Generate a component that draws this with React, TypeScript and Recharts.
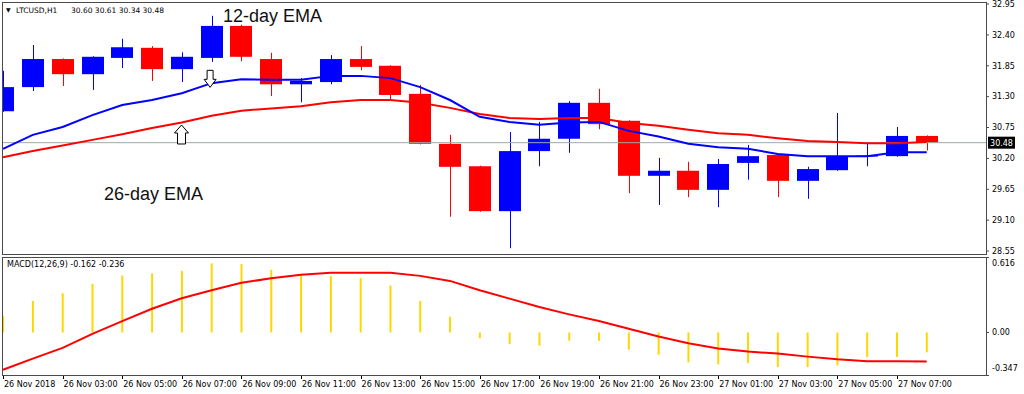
import React from 'react';
import { ComposedChart, Bar, Line, XAxis, YAxis, ReferenceLine, ReferenceDot } from 'recharts';

// ---- data (LTCUSD, H1) ----
const opens = [31.04, 31.47, 31.97, 31.70, 31.99, 32.17, 31.79, 31.99, 32.56, 31.97, 31.52, 31.56, 31.97, 31.85, 31.35, 30.46, 30.06, 29.26, 30.33, 30.55, 31.19, 30.87, 29.89, 29.98, 29.64, 30.12, 30.26, 29.80, 29.99, 30.24, 30.24, 30.60];
const highs = [31.76, 32.22, 31.98, 32.02, 32.33, 32.20, 32.09, 32.74, 32.58, 32.08, 31.63, 32.04, 32.20, 31.86, 31.51, 30.62, 30.07, 30.67, 30.85, 31.22, 31.44, 30.88, 30.21, 30.14, 30.19, 30.44, 30.27, 30.05, 31.01, 30.47, 30.76, 30.61];
const lows = [31.03, 31.40, 31.49, 31.42, 31.81, 31.58, 31.56, 31.92, 31.93, 31.31, 31.20, 31.52, 31.77, 31.24, 30.45, 29.16, 29.25, 28.60, 30.06, 30.30, 30.72, 29.58, 29.37, 29.51, 29.33, 29.82, 29.51, 29.48, 29.98, 30.06, 30.23, 30.34];
const closes = [31.47, 31.97, 31.70, 32.01, 32.18, 31.79, 32.01, 32.56, 32.01, 31.52, 31.58, 31.97, 31.83, 31.33, 30.46, 30.05, 29.26, 30.33, 30.55, 31.19, 30.81, 29.89, 29.98, 29.64, 30.10, 30.24, 29.80, 30.01, 30.24, 30.25, 30.60, 30.48];
const ema12 = [30.37, 30.62, 30.76, 30.97, 31.15, 31.24, 31.36, 31.54, 31.61, 31.60, 31.60, 31.67, 31.67, 31.63, 31.47, 31.24, 30.94, 30.85, 30.80, 30.84, 30.85, 30.69, 30.59, 30.46, 30.40, 30.37, 30.28, 30.24, 30.24, 30.24, 30.31, 30.31];
const ema26 = [30.22, 30.33, 30.43, 30.53, 30.63, 30.74, 30.84, 30.96, 31.05, 31.09, 31.13, 31.20, 31.24, 31.24, 31.19, 31.10, 30.99, 30.92, 30.90, 30.92, 30.92, 30.83, 30.78, 30.71, 30.65, 30.62, 30.56, 30.51, 30.49, 30.47, 30.47, 30.49];
const macdHist = [0.134, 0.257, 0.320, 0.397, 0.465, 0.482, 0.503, 0.564, 0.558, 0.512, 0.471, 0.460, 0.443, 0.383, 0.257, 0.129, -0.047, -0.093, -0.107, -0.068, -0.068, -0.140, -0.183, -0.244, -0.260, -0.249, -0.282, -0.282, -0.268, -0.200, -0.200, -0.162];
const macdSignal = [-0.304, -0.213, -0.126, -0.011, 0.093, 0.194, 0.279, 0.345, 0.405, 0.443, 0.471, 0.487, 0.487, 0.487, 0.462, 0.421, 0.345, 0.276, 0.208, 0.148, 0.093, 0.030, -0.033, -0.088, -0.131, -0.156, -0.172, -0.197, -0.219, -0.235, -0.235, -0.236];

const tickIndices = [0, 2, 4, 6, 8, 10, 12, 14, 16, 18, 20, 22, 24, 26, 28, 30];
const tickLabels = ['26 Nov 2018', '26 Nov 03:00', '26 Nov 05:00', '26 Nov 07:00', '26 Nov 09:00', '26 Nov 11:00', '26 Nov 13:00', '26 Nov 15:00', '26 Nov 17:00', '26 Nov 19:00', '26 Nov 21:00', '26 Nov 23:00', '27 Nov 01:00', '27 Nov 03:00', '27 Nov 05:00', '27 Nov 07:00'];
const priceTicks = [32.95, 32.4, 31.85, 31.3, 30.75, 30.2, 29.65, 29.1, 28.55];
const macdTicks = [0.616, 0, -0.347];
const lastPrice = 30.48;
const headerSymbol = 'LTCUSD,H1';
const headerValues = '30.60 30.61 30.34 30.48';
const macdHeader = 'MACD(12,26,9) -0.162 -0.236';
const downArrow = { i: 6.95, price: 31.466 };
const upArrow = { i: 5.99, price: 30.795 };

const data = opens.map((o, i) => ({
  i,
  open: o,
  high: highs[i],
  low: lows[i],
  close: closes[i],
  ema12: ema12[i],
  ema26: ema26[i],
  hist: macdHist[i],
  signal: macdSignal[i],
}));

const X_DOMAIN: [number, number] = [-0.034, 32.99];
const SMALL_FONT = 'DejaVu Sans';
const FRAME = '#4a4a4a';

const Candle = (props: any) => {
  const { x, y, width, height, payload } = props;
  if (x == null || y == null || !payload) return null;
  const { open, close, high, low } = payload;
  const range = high - low;
  const k = range > 0 ? height / range : 0;
  const yO = y + (high - open) * k;
  const yC = y + (high - close) * k;
  const top = Math.min(yO, yC);
  const bh = Math.max(Math.abs(yO - yC), 1);
  const color = close >= open ? '#0000FF' : '#FF0000';
  const cx = Math.round(x + width / 2) + 0.5;
  const bx = Math.round(x);
  return (
    <g>
      <line x1={cx} x2={cx} y1={y} y2={y + height} stroke={color} strokeWidth={1} />
      <rect x={bx} y={top} width={Math.round(width)} height={bh} fill={color} />
    </g>
  );
};

const PriceTag = (props: any) => {
  const vb = props.viewBox || {};
  const right = (vb.x ?? 0) + (vb.width ?? 0);
  const y = vb.y ?? 0;
  return (
    <g>
      <rect x={right + 2} y={y - 6} width={27} height={12} fill="#000" />
      <text x={right + 15.5} y={y + 3} textAnchor="middle" fill="#fff" fontSize={8} fontFamily={SMALL_FONT}>
        {lastPrice.toFixed(2)}
      </text>
    </g>
  );
};

const DownArrowShape = (props: any) => {
  const { cx, cy } = props;
  if (cx == null || cy == null) return null;
  const d = `M${cx - 3},${cy - 17} L${cx + 3},${cy - 17} L${cx + 3},${cy - 8} L${cx + 6},${cy - 8} L${cx},${cy} L${cx - 6},${cy - 8} L${cx - 3},${cy - 8} Z`;
  return <path d={d} fill="#fff" stroke="#000" strokeWidth={1} />;
};

const UpArrowShape = (props: any) => {
  const { cx, cy } = props;
  if (cx == null || cy == null) return null;
  const d = `M${cx},${cy} L${cx + 7},${cy + 8} L${cx + 4},${cy + 8} L${cx + 4},${cy + 19} L${cx - 4},${cy + 19} L${cx - 4},${cy + 8} L${cx - 7},${cy + 8} Z`;
  return <path d={d} fill="#fff" stroke="#000" strokeWidth={1} />;
};

const TimeTick = (props: any) => {
  const { x, y, payload } = props;
  const idx = tickIndices.indexOf(payload.value);
  const label = idx >= 0 ? tickLabels[idx] : '';
  const px = Math.round(x) + 0.5;
  return (
    <g>
      <line x1={px} x2={px} y1={y} y2={y + 4} stroke="#000" strokeWidth={1} />
      <text x={x + 1} y={y + 12} fontSize={8} fontFamily={SMALL_FONT} fill="#000">
        {label}
      </text>
    </g>
  );
};

const MacdTick = (props: any) => {
  const { x, y, payload } = props;
  const v = payload.value as number;
  const dy = v > 0.5 ? 9 : v < -0.3 ? -4 : 3;
  const txt = v === 0 ? '0.00' : v.toFixed(3);
  return (
    <g>
      <line x1={986} x2={989} y1={Math.round(y) + 0.5} y2={Math.round(y) + 0.5} stroke={FRAME} />
      <text x={x} y={y + dy} fontSize={8} fontFamily={SMALL_FONT} fill="#000">
        {txt}
      </text>
    </g>
  );
};

export default function App() {
  return (
    <div style={{ position: 'absolute', left: 0, top: 0, width: 1024, height: 394, background: '#fff', overflow: 'hidden' }}>
      <div style={{ position: 'absolute', left: 0, top: 0 }}>
        <ComposedChart width={1024} height={256} data={data} margin={{ top: 2, right: 0, bottom: 2, left: 2 }}>
          <XAxis type="number" dataKey="i" domain={X_DOMAIN} allowDataOverflow hide />
          <YAxis
            orientation="right"
            width={38}
            domain={[28.497, 32.986]}
            allowDataOverflow
            ticks={priceTicks}
            interval={0}
            tickFormatter={(v: number) => v.toFixed(2)}
            tickSize={3}
            tickMargin={3}
            axisLine={false}
            tickLine={{ stroke: FRAME }}
            tick={{ fill: '#000', fontSize: 8, fontFamily: SMALL_FONT }}
          />
          <ReferenceLine y={lastPrice} stroke="#A0A8AA" strokeWidth={1} label={{ content: PriceTag } as any} />
          <Bar dataKey={(d: any) => [d.low, d.high]} barSize={22} shape={<Candle />} isAnimationActive={false} />
          <Line type="linear" dataKey="ema26" stroke="#FF0000" strokeWidth={2} dot={false} activeDot={false} isAnimationActive={false} />
          <Line type="linear" dataKey="ema12" stroke="#0000FF" strokeWidth={2} dot={false} activeDot={false} isAnimationActive={false} />
          <ReferenceDot x={downArrow.i} y={downArrow.price} shape={<DownArrowShape />} ifOverflow="visible" />
          <ReferenceDot x={upArrow.i} y={upArrow.price} shape={<UpArrowShape />} ifOverflow="visible" />
        </ComposedChart>
      </div>
      <div style={{ position: 'absolute', left: 0, top: 255 }}>
        <ComposedChart width={1024} height={139} data={data} margin={{ top: 2, right: 0, bottom: 0, left: 2 }}>
          <XAxis
            type="number"
            dataKey="i"
            domain={X_DOMAIN}
            allowDataOverflow
            ticks={tickIndices}
            interval={0}
            height={19}
            axisLine={false}
            tickLine={false}
            tickSize={0}
            tickMargin={0}
            tick={<TimeTick />}
          />
          <YAxis
            orientation="right"
            width={38}
            domain={[-0.347, 0.616]}
            allowDataOverflow
            ticks={macdTicks}
            interval={0}
            tickSize={3}
            tickMargin={3}
            axisLine={false}
            tickLine={false}
            tick={<MacdTick />}
          />
          <Bar dataKey="hist" barSize={2} fill="#FFD700" isAnimationActive={false} />
          <Line type="linear" dataKey="signal" stroke="#FF0000" strokeWidth={2} dot={false} activeDot={false} isAnimationActive={false} />
        </ComposedChart>
      </div>
      {/* panel frames */}
      <div style={{ position: 'absolute', left: 2, top: 2, width: 985, height: 253, boxSizing: 'border-box', border: `1px solid ${FRAME}`, pointerEvents: 'none' }} />
      <div style={{ position: 'absolute', left: 2, top: 257, width: 985, height: 119, boxSizing: 'border-box', border: `1px solid ${FRAME}`, pointerEvents: 'none' }} />
      {/* text annotations */}
      <svg width={1024} height={394} style={{ position: 'absolute', left: 0, top: 0, pointerEvents: 'none' }}>
        <text x={6} y={12} fontSize={6} fontFamily={SMALL_FONT} fill="#000">▼</text>
        <text x={16} y={13} fontSize={7.5} fontFamily={SMALL_FONT} fill="#000">{headerSymbol}</text>
        <text x={71} y={13} fontSize={7.5} fontFamily={SMALL_FONT} fill="#000">{headerValues}</text>
        <text x={7} y={267} fontSize={8} fontFamily={SMALL_FONT} fill="#000">{macdHeader}</text>
        <text x={223} y={22} fontSize={18} fontFamily="Liberation Sans" fill="#111">12-day EMA</text>
        <text x={104} y={200} fontSize={18} fontFamily="Liberation Sans" fill="#111">26-day EMA</text>
      </svg>
    </div>
  );
}
